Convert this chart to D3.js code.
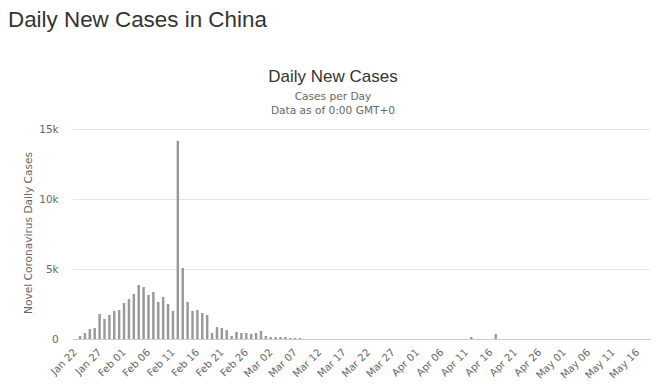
<html>
<head>
<script src="https://d3js.org/d3.v7.min.js"></script>
<style>
  body { margin: 0; background: #fff; }
</style>
</head>
<body>
<svg id="chart" width="660" height="391"></svg>
<script>
// daily new cases, one value per day starting at startDate
const startDate = "2020-01-22";
const dailyCases = [
  // Jan 22 - Jan 31
  0, 240, 440, 680, 770, 1771, 1459, 1737, 1981, 2099,
  // Feb 01 - Feb 29
  2589, 2825, 3235, 3884, 3694, 3143, 3385, 2652, 2973, 2467,
  2015, 14108, 5090, 2641, 2008, 2048, 1886, 1749, 394, 870,
  800, 648, 214, 508, 406, 433, 327, 427, 573,
  // Mar 01 - Mar 31
  202, 125, 119, 139, 143, 99, 44, 40, 19, 24,
  15, 8, 11, 20, 16, 21, 13, 34, 29, 31,
  26, 29, 32, 27, 30, 25, 24, 25, 21, 28, 26,
  // Apr 01 - Apr 30
  25, 21, 19, 20, 29, 22, 32, 33, 22, 26,
  30, 108, 34, 26, 26, 26, 325, 27, 16, 12,
  11, 30, 10, 6, 11, 3, 3, 22, 4, 12,
  // May 01 - May 18
  12, 2, 2, 3, 1, 2, 4, 1, 14, 17,
  1, 7, 3, 4, 5, 8, 7, 6
];
const yTickValues = [0, 5000, 10000, 15000];
const xLabelStep = 5;

const pageTitle = "Daily New Cases in China";
const chartTitle = "Daily New Cases";
const subtitleLines = ["Cases per Day", "Data as of 0:00 GMT+0"];
const yAxisTitle = "Novel Coronavirus Daily Cases";

const svg = d3.select("#chart");
const smallFont = "'DejaVu Sans', sans-serif";

const parseDate = d3.timeParse("%Y-%m-%d");
const fmt = d3.timeFormat("%b %d");
const dates = dailyCases.map((_, i) => d3.timeDay.offset(parseDate(startDate), i));
const data = dates.map((d, i) => ({date: d, cases: dailyCases[i]}));

const plot = {left: 72.7, right: 649.7, top: 129, bottom: 339};

const x = d3.scaleBand()
    .domain(dates)
    .range([plot.left, plot.right])
    .paddingInner(0.5)
    .paddingOuter(0.25);

const y = d3.scaleLinear()
    .domain([0, 15000])
    .range([plot.bottom, plot.top]);

// titles
svg.append("text")
    .attr("x", 8).attr("y", 27)
    .attr("font-family", "'Liberation Sans', Arial, sans-serif")
    .attr("font-size", 22.4)
    .attr("fill", "#333")
    .text(pageTitle);

svg.append("text")
    .attr("x", 333).attr("y", 81.5)
    .attr("text-anchor", "middle")
    .attr("font-family", "'Liberation Sans', Arial, sans-serif")
    .attr("font-size", 17)
    .attr("fill", "#333")
    .text(chartTitle);

svg.selectAll(".subtitle")
    .data(subtitleLines)
    .join("text")
    .attr("class", "subtitle")
    .attr("x", 333)
    .attr("y", (d, i) => 99.5 + i * 14.5)
    .attr("text-anchor", "middle")
    .attr("font-family", smallFont)
    .attr("font-size", 10.6)
    .attr("fill", "#666")
    .text(d => d);

// y grid + labels
const yAxis = svg.append("g")
    .attr("transform", `translate(${plot.left},0)`)
    .call(d3.axisLeft(y)
        .tickValues(yTickValues)
        .tickSize(-(plot.right - plot.left))
        .tickFormat(d => d === 0 ? "0" : d3.format("~s")(d)));
yAxis.select(".domain").remove();
yAxis.selectAll(".tick line").attr("stroke", "#e6e6e6");
yAxis.selectAll(".tick text")
    .attr("x", -14)
    .attr("font-family", smallFont)
    .attr("font-size", 10.5)
    .attr("fill", "#666");

svg.append("text")
    .attr("transform", `translate(32,233) rotate(-90)`)
    .attr("text-anchor", "middle")
    .attr("font-family", smallFont)
    .attr("font-size", 10.6)
    .attr("fill", "#666")
    .text(yAxisTitle);

// bars (tops snapped to whole pixels like the original)
svg.append("g")
    .selectAll("rect")
    .data(data)
    .join("rect")
    .attr("x", d => x(d.date))
    .attr("width", x.bandwidth())
    .attr("y", d => Math.round(y(d.cases)))
    .attr("height", d => plot.bottom - Math.round(y(d.cases)))
    .attr("fill", "#999");

// x axis
const xAxis = svg.append("g")
    .attr("transform", `translate(0,${plot.bottom})`)
    .call(d3.axisBottom(x)
        .tickValues(dates.filter((d, i) => i % xLabelStep === 0))
        .tickSize(0)
        .tickSizeOuter(0)
        .tickFormat(fmt));
xAxis.select(".domain").attr("stroke", "#ccc");
xAxis.selectAll(".tick text")
    .attr("text-anchor", "end")
    .attr("dy", null)
    .attr("y", null)
    .attr("transform", "translate(2.5,14) rotate(-45)")
    .attr("font-family", smallFont)
    .attr("font-size", 10.2)
    .attr("fill", "#666");
</script>
</body>
</html>
